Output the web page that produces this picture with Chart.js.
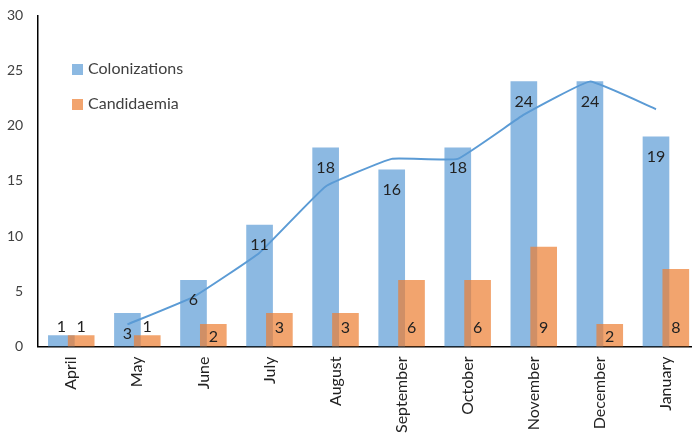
<!DOCTYPE html>
<html>
<head>
<meta charset="utf-8">
<script src="https://cdn.jsdelivr.net/npm/chart.js@4"></script>
<style>
  html, body { margin: 0; padding: 0; background: #fff; }
  #wrap { width: 692px; height: 435px; }
</style>
</head>
<body>
<div id="wrap"><canvas id="chart" width="692" height="435"></canvas></div>
<script>
const months = ['April', 'May', 'June', 'July', 'August', 'September', 'October', 'November', 'December', 'January'];
const colonizations = [1, 3, 6, 11, 18, 16, 18, 24, 24, 19];
const candidaemia = [1, 1, 2, 3, 3, 6, 6, 9, 2, 7];
const candidaemiaLabels = [1, 1, 2, 3, 3, 6, 6, 9, 2, 8];
const trend = [null, 2, 4.5, 8.5, 14.5, 17, 17, 21, 24, 21.5];
const yTicks = [0, 5, 10, 15, 20, 25, 30];

const shift = 0.15;
const font = 'Lato, "Open Sans", sans-serif';

// labels on bars + legend in the plot area
const barLabels = {
    id: 'barLabels',
    afterDatasetsDraw(chart) {
        const ctx = chart.ctx;
        const y0 = chart.scales.y.getPixelForValue(0);
        ctx.save();
        ctx.font = '16px ' + font;
        ctx.fillStyle = '#222';
        ctx.textAlign = 'center';
        ctx.textBaseline = 'middle';

        chart.getDatasetMeta(0).data.forEach((bar, i) => {
            const h = y0 - bar.y;
            const y = h < 15 ? bar.y - 9 : bar.y + 20;
            ctx.fillText(colonizations[i], bar.x, y);
        });
        chart.getDatasetMeta(1).data.forEach((bar, i) => {
            const h = y0 - bar.y;
            const y = h < 15 ? bar.y - 9 : Math.max(y0 - 19, bar.y + 12);
            ctx.fillText(candidaemiaLabels[i], bar.x, y);
        });

        // legend
        ctx.textAlign = 'left';
        ctx.font = '16px ' + font;
        const items = [[chart.data.datasets[0], 69], [chart.data.datasets[1], 104]];
        items.forEach(([ds, y]) => {
            ctx.fillStyle = ds.backgroundColor;
            ctx.fillRect(72, y - 5, 11, 11);
            ctx.fillStyle = '#404040';
            ctx.fillText(ds.label, 88, y);
        });
        ctx.restore();
    }
};

new Chart(document.getElementById('chart'), {
    data: {
        datasets: [{
            type: 'bar',
            label: 'Colonizations',
            data: colonizations.map((v, i) => ({ x: i - shift, y: v })),
            backgroundColor: 'rgba(91, 155, 213, 0.7)',
            barThickness: 26,
            grouped: false,
            order: 2
        }, {
            type: 'bar',
            label: 'Candidaemia',
            data: candidaemia.map((v, i) => ({ x: i + shift, y: v })),
            backgroundColor: 'rgba(237, 125, 49, 0.7)',
            barThickness: 26,
            grouped: false,
            order: 1
        }, {
            type: 'line',
            label: 'Trend',
            data: trend.map((v, i) => ({ x: i - shift, y: v })),
            borderColor: '#5B9BD5',
            borderWidth: 2,
            pointRadius: 0,
            tension: 0.1,
            order: 0
        }]
    },
    options: {
        responsive: false,
        animation: false,
        layout: { padding: { top: 7, right: 1 } },
        plugins: {
            legend: { display: false },
            tooltip: { enabled: false }
        },
        scales: {
            x: {
                type: 'linear',
                offset: false,
                min: -0.5,
                max: 9.38,
                grid: { display: false },
                border: { color: '#000', width: 1.5 },
                afterBuildTicks: scale => {
                    scale.ticks = months.map((m, i) => ({ value: i }));
                },
                ticks: {
                    minRotation: 90,
                    maxRotation: 90,
                    autoSkip: false,
                    padding: 2,
                    color: '#222',
                    font: { size: 16, family: font },
                    callback: v => months[v]
                }
            },
            y: {
                min: 0,
                max: 30,
                grid: { display: false },
                border: { color: '#000', width: 1.5 },
                afterBuildTicks: scale => {
                    scale.ticks = yTicks.map(v => ({ value: v }));
                },
                ticks: {
                    color: '#404040',
                    padding: 7,
                    font: { size: 14, family: font }
                }
            }
        }
    },
    plugins: [barLabels]
});
</script>
</body>
</html>
